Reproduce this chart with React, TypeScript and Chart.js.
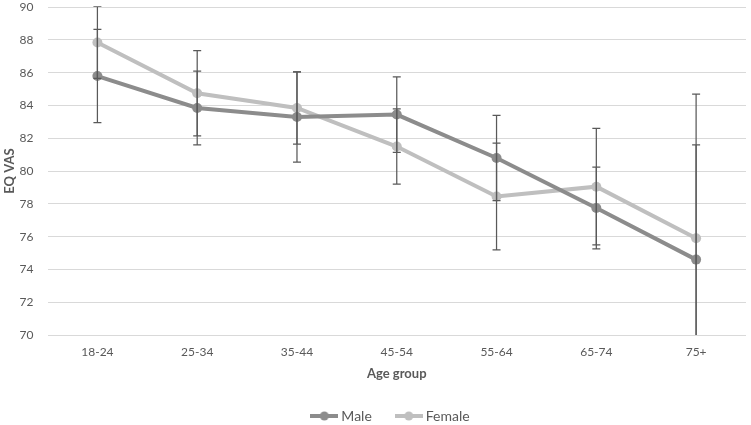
import * as React from 'react';
import {useRef, useEffect} from 'react';
import {Chart, registerables} from 'chart.js';

Chart.register(...registerables);

const ageGroups = ['18-24', '25-34', '35-44', '45-54', '55-64', '65-74', '75+'];
const maleMean = [85.8, 83.85, 83.3, 83.45, 80.8, 77.75, 74.6];
const maleErr = [2.85, 2.25, 2.75, 2.3, 2.6, 2.5, 7.0];
const femaleMean = [87.85, 84.75, 83.85, 81.5, 78.45, 79.05, 75.9];
const femaleErr = [2.2, 2.6, 2.2, 2.3, 3.25, 3.55, 8.8];
const yMin = 70;
const yMax = 90;
const yStep = 2;

const MALE_COLOR = '#8c8c8c';
const FEMALE_COLOR = '#bfbfbf';
const TEXT_COLOR = '#595959';
const FONT = 'Lato, "Open Sans", sans-serif';

function legendIcon(color: string): HTMLCanvasElement {
  const c = document.createElement('canvas');
  c.width = 28;
  c.height = 10;
  const ctx = c.getContext('2d')!;
  ctx.strokeStyle = color;
  ctx.lineWidth = 4;
  ctx.beginPath();
  ctx.moveTo(0, 5);
  ctx.lineTo(28, 5);
  ctx.stroke();
  ctx.fillStyle = color;
  ctx.beginPath();
  ctx.arc(14, 5, 4.5, 0, Math.PI * 2);
  ctx.fill();
  return c;
}

// draws the +/- error bars for every dataset on top of the lines
const errorBars = {
  id: 'errorBars',
  afterDatasetsDraw(chart: any) {
    const {ctx, chartArea, scales} = chart;
    const errs = [maleErr, femaleErr];
    ctx.save();
    ctx.beginPath();
    ctx.rect(chartArea.left, chartArea.top - 1, chartArea.right - chartArea.left, chartArea.bottom - chartArea.top + 1);
    ctx.clip();
    ctx.strokeStyle = TEXT_COLOR;
    ctx.lineWidth = 1.25;
    chart.data.datasets.forEach((ds: any, i: number) => {
      ds.data.forEach((v: number, j: number) => {
        const x = scales.x.getPixelForValue(j);
        const top = scales.y.getPixelForValue(v + errs[i][j]);
        const bot = scales.y.getPixelForValue(v - errs[i][j]);
        ctx.beginPath();
        ctx.moveTo(x, top);
        ctx.lineTo(x, bot);
        ctx.moveTo(x - 4, top);
        ctx.lineTo(x + 4, top);
        ctx.moveTo(x - 4, bot);
        ctx.lineTo(x + 4, bot);
        ctx.stroke();
      });
    });
    ctx.restore();
  }
};

// nudge the legend so it sits under the middle of the plot area
const legendShift = {
  id: 'legendShift',
  afterLayout(chart: any) {
    if (chart.legend) {
      chart.legend.left += 16;
      chart.legend.right += 16;
    }
  }
};

function EqVasChart(): JSX.Element {
  const canvasRef = useRef<HTMLCanvasElement>(null);

  useEffect(() => {
    document.body.style.margin = '0';
    if (!canvasRef.current) return;
    const chart = new Chart(canvasRef.current, {
      type: 'line',
      data: {
        labels: ageGroups,
        datasets: [
          {
            label: 'Male',
            data: maleMean,
            borderColor: MALE_COLOR,
            backgroundColor: MALE_COLOR,
            borderWidth: 4,
            pointRadius: 5,
            pointBorderWidth: 0,
          },
          {
            label: 'Female',
            data: femaleMean,
            borderColor: FEMALE_COLOR,
            backgroundColor: FEMALE_COLOR,
            borderWidth: 4,
            pointRadius: 5,
            pointBorderWidth: 0,
          },
        ],
      },
      options: {
        animation: false,
        responsive: true,
        maintainAspectRatio: false,
        layout: {padding: {top: 0, right: 1, left: 2, bottom: -8}},
        elements: {point: {pointStyle: 'circle'}, line: {tension: 0}},
        plugins: {
          tooltip: {enabled: false},
          legend: {
            position: 'bottom',
            labels: {
              usePointStyle: true,
              pointStyleWidth: 20,
              boxHeight: 10,
              color: TEXT_COLOR,
              font: {family: FONT, size: 14},
              padding: 27,
              generateLabels: (chart: any) =>
                chart.data.datasets.map((ds: any, i: number) => ({
                  text: ds.label,
                  fontColor: TEXT_COLOR,
                  pointStyle: legendIcon(ds.borderColor),
                  datasetIndex: i,
                  lineWidth: 0,
                })),
            },
          },
        },
        scales: {
          x: {
            offset: true,
            grid: {display: false},
            border: {display: false},
            ticks: {color: TEXT_COLOR, font: {family: FONT, size: 12}, padding: 2},
            title: {
              display: true,
              text: 'Age group',
              color: TEXT_COLOR,
              font: {family: FONT, size: 13, weight: 'bold'},
              padding: {top: 5, bottom: 0},
            },
          },
          y: {
            min: yMin,
            max: yMax,
            ticks: {stepSize: yStep, color: TEXT_COLOR, font: {family: FONT, size: 12}, padding: 0},
            grid: {color: '#d9d9d9', drawTicks: true, tickLength: 14, tickColor: 'transparent', lineWidth: 1},
            border: {display: false},
            title: {
              display: true,
              text: 'EQ VAS',
              color: TEXT_COLOR,
              font: {family: FONT, size: 13, weight: 'bold'},
              padding: {top: 0, bottom: 2},
            },
          },
        },
      },
      plugins: [errorBars, legendShift],
    });
    return () => chart.destroy();
  }, []);

  return (
    <div style={{width: 751, height: 425, position: 'relative'}}>
      <canvas ref={canvasRef} />
    </div>
  );
}

export default function App(): JSX.Element {
  return <EqVasChart />;
}
